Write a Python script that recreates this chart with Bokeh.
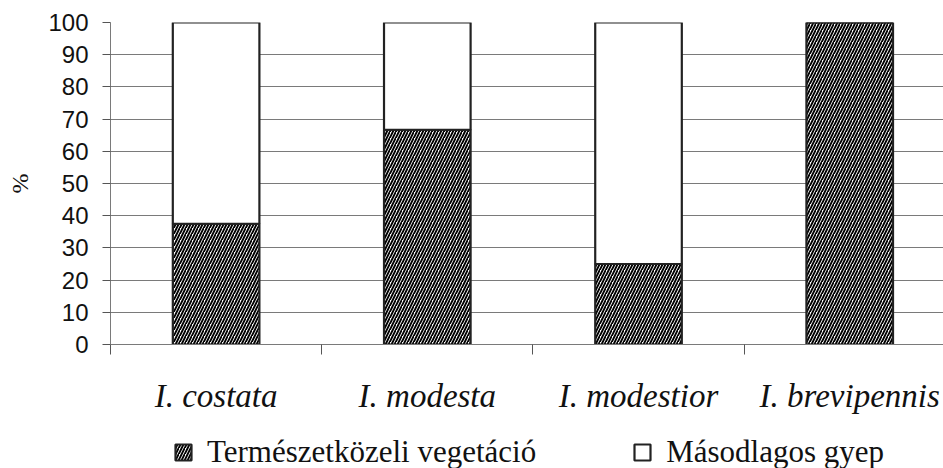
from bokeh.plotting import figure
from bokeh.layouts import column
from bokeh.models import ColumnDataSource, FixedTicker, Range1d, Legend, LegendItem
from bokeh.embed import file_html
from bokeh.resources import INLINE

# ---- data ----
categories = ["I. costata", "I. modesta", "I. modestior", "I. brevipennis"]
termeszetkozeli = [37.5, 66.7, 25.0, 100.0]   # Természetközeli vegetáció (%)
masodlagos = [62.5, 33.3, 75.0, 0.0]           # Másodlagos gyep (%)
y_ticks = [0, 10, 20, 30, 40, 50, 60, 70, 80, 90, 100]
series_labels = ["Természetközeli vegetáció", "Másodlagos gyep"]

hatched = dict(fill_color="white", hatch_pattern="/", hatch_color="black",
               hatch_scale=6, hatch_weight=1.9, line_color="#222222", line_width=2.2)
plain = dict(fill_color="white", line_color="#222222", line_width=2.2)

xpos = [i + 0.5 for i in range(len(categories))]
src = ColumnDataSource(dict(
    x=xpos,
    nat_bottom=[0.0] * len(categories),
    nat_top=termeszetkozeli,
    sec_bottom=termeszetkozeli,
    sec_top=[a + b for a, b in zip(termeszetkozeli, masodlagos)],
))

p = figure(width=943, height=420, output_backend="svg", toolbar_location=None,
           x_range=Range1d(0, 3.944), y_range=Range1d(0, 100))
p.min_border_left = 110
p.min_border_right = 0
p.min_border_top = 22
p.min_border_bottom = 76
p.outline_line_color = None
p.background_fill_color = "white"

r1 = p.vbar(x="x", bottom="nat_bottom", top="nat_top", width=0.41, source=src, **hatched)
r2 = p.vbar(x="x", bottom="sec_bottom", top="sec_top", width=0.41, source=src, **plain)

# grid
p.xgrid.visible = False
p.ygrid.ticker = FixedTicker(ticks=y_ticks[:-1])
p.ygrid.grid_line_color = "#7a7a7a"
p.ygrid.grid_line_width = 1.2

# y axis
p.yaxis.ticker = FixedTicker(ticks=y_ticks)
p.yaxis.axis_line_color = "#7a7a7a"
p.yaxis.major_tick_line_color = "#555555"
p.yaxis.major_tick_out = 8
p.yaxis.major_tick_in = 0
p.yaxis.minor_tick_line_color = None
p.yaxis.major_label_standoff = 14
p.yaxis.major_label_text_font = "Liberation Sans"
p.yaxis.major_label_text_font_size = "24px"
p.yaxis.major_label_text_color = "#111111"
p.yaxis.axis_label = "%"
p.yaxis.axis_label_text_font = "Liberation Serif"
p.yaxis.axis_label_text_font_style = "normal"
p.yaxis.axis_label_text_font_size = "24px"
p.yaxis.axis_label_text_color = "#111111"
p.yaxis.axis_label_standoff = 12

# x axis: labels at category centres, ticks at category boundaries
p.xaxis.ticker = FixedTicker(ticks=xpos, minor_ticks=list(range(len(categories))))
p.xaxis.major_label_overrides = {x: c for x, c in zip(xpos, categories)}
p.xaxis.axis_line_color = "#7a7a7a"
p.xaxis.major_tick_line_color = None
p.xaxis.major_tick_out = 0
p.xaxis.major_tick_in = 0
p.xaxis.minor_tick_line_color = "#555555"
p.xaxis.minor_tick_out = 10
p.xaxis.minor_tick_in = 0
p.xaxis.major_label_standoff = 23
p.xaxis.major_label_text_font = "Liberation Serif"
p.xaxis.major_label_text_font_style = "italic"
p.xaxis.major_label_text_font_size = "33px"
p.xaxis.major_label_text_color = "#111111"

# ---- legend strip below the chart (its frame is aligned with the chart's) ----
lg = figure(width=943, height=48, output_backend="svg", toolbar_location=None,
            x_range=Range1d(0, 1), y_range=Range1d(0, 1),
            x_axis_type=None, y_axis_type=None)
lg.min_border = 0
lg.outline_line_color = None
# same bar styles, hidden: only their legend swatches are shown
d1 = lg.vbar(x="x", bottom="nat_bottom", top="nat_top", width=0.41, source=src,
             visible=False, **hatched)
d2 = lg.vbar(x="x", bottom="sec_bottom", top="sec_top", width=0.41, source=src,
             visible=False, **plain)

legend = Legend(items=[LegendItem(label=series_labels[0], renderers=[d1]),
                       LegendItem(label=series_labels[1], renderers=[d2])],
                orientation="horizontal", location=(63, -2),
                padding=0, margin=0, spacing=96, label_standoff=14,
                glyph_width=20, glyph_height=20, label_height=20,
                border_line_color=None, background_fill_alpha=0,
                inactive_fill_alpha=0,
                label_text_font="Liberation Serif", label_text_font_size="31px",
                label_text_color="#111111")
lg.add_layout(legend, "center")

layout = column(p, lg, spacing=0)
open("out.html", "w").write(file_html(layout, INLINE))
